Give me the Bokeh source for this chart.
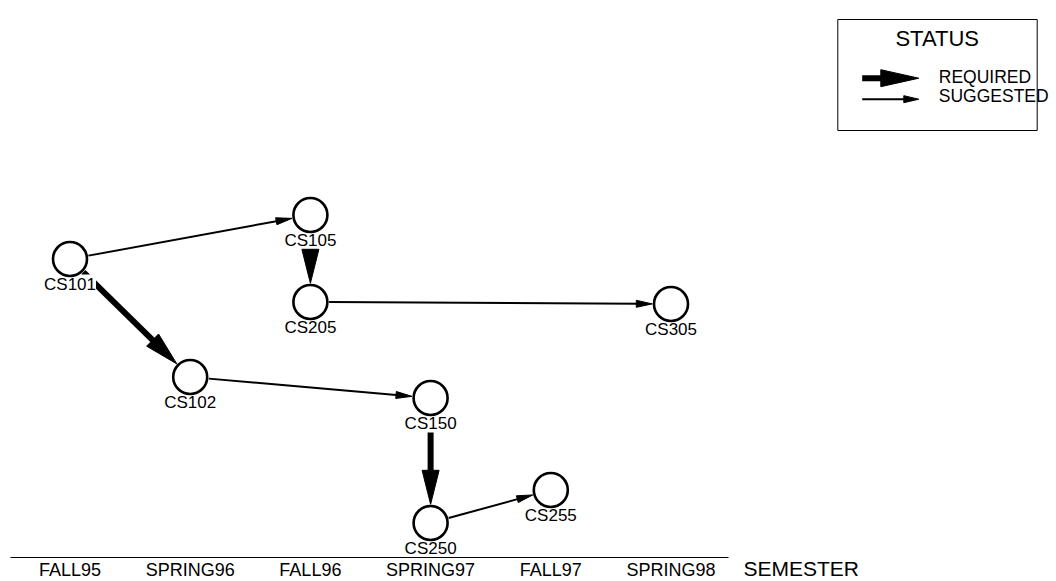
import math
from bokeh.plotting import figure
from bokeh.models import Range1d, LinearAxis, FixedTicker
from bokeh.core.properties import value
from bokeh.embed import file_html
from bokeh.resources import INLINE

# ---------------- data ----------------
SEMESTERS = ["FALL95", "SPRING96", "FALL96", "SPRING97", "FALL97", "SPRING98"]
COURSES = ["CS101", "CS105", "CS205", "CS305", "CS102", "CS150", "CS250", "CS255"]
COURSE_SEMESTER = [0, 2, 2, 5, 1, 3, 3, 4]
COURSE_ROW = [29.8, 34.2, 25.5, 25.3, 18.0, 15.9, 3.4, 6.7]
EDGE_FROM = ["CS101", "CS101", "CS105", "CS205", "CS102", "CS150", "CS250"]
EDGE_TO = ["CS105", "CS102", "CS205", "CS305", "CS150", "CS250", "CS255"]
EDGE_STATUS = ["SUGGESTED", "REQUIRED", "REQUIRED", "SUGGESTED", "SUGGESTED", "REQUIRED", "SUGGESTED"]
STATUS_LEVELS = ["REQUIRED", "SUGGESTED"]

# ---------------- layout ----------------
W, H = 1056, 581
PX_PER_SEM = 120.2
PX_PER_ROW = 10.0
X_START = -69.5 / PX_PER_SEM
Y_START = -(H - 556.5) / PX_PER_ROW
FONT = value("Liberation Sans")

# arrow styles per status: (shaft width, head length, head width)
STYLE = {"REQUIRED": (6, 34, 17), "SUGGESTED": (2, 16, 7)}
LEGEND_STYLE = {"REQUIRED": (7, 38, 17), "SUGGESTED": (2, 15, 7)}
NODE_R = 18.7


def sx(x):
    return (x - X_START) * PX_PER_SEM


def sy(y):
    return H - (y - Y_START) * PX_PER_ROW


def dx(px):
    return X_START + px / PX_PER_SEM


def dy(py):
    return Y_START + (H - py) / PX_PER_ROW


def arrow(a, b, r1, r2, style):
    """a, b in screen px; returns shaft (xs, ys) and head (xs, ys) in data units."""
    shaft_w, hl, hw = style
    ddx, ddy = b[0] - a[0], b[1] - a[1]
    d = math.hypot(ddx, ddy)
    ux, uy = ddx / d, ddy / d
    start = (a[0] + ux * r1, a[1] + uy * r1)
    tip = (b[0] - ux * r2, b[1] - uy * r2)
    base = (tip[0] - ux * hl, tip[1] - uy * hl)
    send = (base[0] + ux * 3, base[1] + uy * 3)
    nx, ny = -uy, ux
    c1 = (base[0] + nx * hw / 2, base[1] + ny * hw / 2)
    c2 = (base[0] - nx * hw / 2, base[1] - ny * hw / 2)
    shaft = ([dx(start[0]), dx(send[0])], [dy(start[1]), dy(send[1])])
    head = ([dx(tip[0]), dx(c1[0]), dx(c2[0])], [dy(tip[1]), dy(c1[1]), dy(c2[1])])
    return shaft, head


p = figure(width=W, height=H, x_range=Range1d(X_START, X_START + W / PX_PER_SEM),
           y_range=Range1d(Y_START, Y_START + H / PX_PER_ROW),
           output_backend="svg", toolbar_location=None, min_border=0,
           x_axis_type=None, y_axis_type=None)
p.outline_line_color = None
p.background_fill_color = "white"

# ---- arrows between courses ----
pos = {c: (COURSE_SEMESTER[i], COURSE_ROW[i]) for i, c in enumerate(COURSES)}
shafts = {s: ([], []) for s in STATUS_LEVELS}
heads = {s: ([], []) for s in STATUS_LEVELS}
for f, t, s in zip(EDGE_FROM, EDGE_TO, EDGE_STATUS):
    a = (sx(pos[f][0]), sy(pos[f][1]))
    b = (sx(pos[t][0]), sy(pos[t][1]))
    sh, hd = arrow(a, b, NODE_R, NODE_R, STYLE[s])
    shafts[s][0].append(sh[0]); shafts[s][1].append(sh[1])
    heads[s][0].append(hd[0]); heads[s][1].append(hd[1])

# legend arrows
legend_y = {"REQUIRED": 77.7, "SUGGESTED": 98.7}
for s in STATUS_LEVELS:
    sh, hd = arrow((861.7, legend_y[s]), (918.3, legend_y[s]), 0, 0, LEGEND_STYLE[s])
    shafts[s][0].append(sh[0]); shafts[s][1].append(sh[1])
    heads[s][0].append(hd[0]); heads[s][1].append(hd[1])

for s in STATUS_LEVELS:
    p.multi_line(xs=shafts[s][0], ys=shafts[s][1], line_color="black",
                 line_width=STYLE[s][0])

# ---- node labels (white background hides shaft start) ----
p.text(x=COURSE_SEMESTER, y=COURSE_ROW, text=COURSES, text_font=FONT,
       text_font_size="17px", text_color="black", text_align="center",
       text_baseline="middle", y_offset=25,
       background_fill_color="white")

for s in STATUS_LEVELS:
    p.patches(xs=heads[s][0], ys=heads[s][1], fill_color="black", line_color="black",
              line_width=1)

# ---- nodes ----
p.scatter(x=COURSE_SEMESTER, y=COURSE_ROW, marker="circle", size=34,
          fill_color="white", line_color="black", line_width=2.6)

# ---- legend ----
p.quad(left=dx(837.3), right=dx(1036.7), top=dy(19), bottom=dy(130),
       fill_color=None, line_color="black", line_width=1)
p.text(x=[dx(936.7)], y=[dy(38.3)], text=["STATUS"], text_font=FONT,
       text_font_size="22px", text_align="center", text_baseline="middle",
       text_color="black")
p.text(x=[dx(938.3)] * 2, y=[dy(76.3), dy(95.5)], text=STATUS_LEVELS,
       text_font=FONT, text_font_size="17.5px", text_align="left",
       text_baseline="middle", text_color="black")

# ---- semester axis ----
xaxis = LinearAxis(fixed_location=0, bounds=(-0.495, 5.48),
                   ticker=FixedTicker(ticks=list(range(len(SEMESTERS)))),
                   major_label_overrides={i: s for i, s in enumerate(SEMESTERS)})
xaxis.major_tick_out = 0
xaxis.major_tick_in = 0
xaxis.minor_tick_out = 0
xaxis.minor_tick_in = 0
xaxis.axis_line_color = "black"
xaxis.axis_line_width = 1
xaxis.major_label_text_font = "Liberation Sans"
xaxis.major_label_text_font_size = "18px"
xaxis.major_label_text_color = "black"
xaxis.major_label_standoff = 3
p.add_layout(xaxis, "below")

p.text(x=[dx(743)], y=[dy(567.5)], text=["SEMESTER"], text_font=FONT,
       text_font_size="21px", text_align="left", text_baseline="middle",
       text_color="black")

open("out.html", "w").write(file_html(p, INLINE))
